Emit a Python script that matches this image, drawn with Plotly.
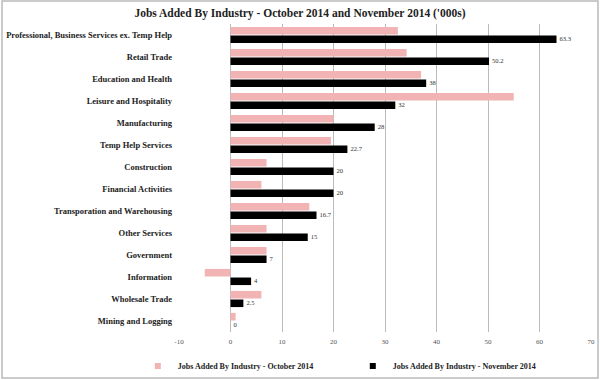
import plotly.graph_objects as go

categories = [
    "Professional, Business Services ex. Temp Help",
    "Retail Trade",
    "Education and Health",
    "Leisure and Hospitality",
    "Manufacturing",
    "Temp Help Services",
    "Construction",
    "Financial Activities",
    "Transporation and Warehousing",
    "Other Services",
    "Government",
    "Information",
    "Wholesale Trade",
    "Mining and Logging",
]
october = [32.5, 34.2, 37, 55, 20, 19.5, 7, 6, 15.3, 7, 7, -5, 6, 1]
november = [63.3, 50.2, 38, 32, 28, 22.7, 20, 20, 16.7, 15, 7, 4, 2.5, 0]
november_labels = ["63.3", "50.2", "38", "32", "28", "22.7", "20", "20", "16.7", "15", "7", "4", "2.5", "0"]
x_ticks = [-10, 0, 10, 20, 30, 40, 50, 60, 70]
series_names = ["Jobs Added By Industry - October 2014", "Jobs Added By Industry - November 2014"]
series_colors = ["#F2B3B5", "#000000"]

serif = "Liberation Serif"

fig = go.Figure()
fig.add_trace(go.Bar(
    y=categories, x=october, orientation="h",
    name=series_names[0], showlegend=False,
    marker=dict(color=series_colors[0], line=dict(width=0)),
))
fig.add_trace(go.Bar(
    y=categories, x=november, orientation="h",
    name=series_names[1], showlegend=False,
    marker=dict(color=series_colors[1], line=dict(width=0)),
    text=november_labels, textposition="outside",
    textfont=dict(family=serif, size=7, color="#333333"),
    cliponaxis=False,
))
# legend entries with small square symbols
for nm, col in zip(series_names, series_colors):
    fig.add_trace(go.Scatter(
        x=[None], y=[None], mode="markers", name="<b>" + nm + "</b>",
        marker=dict(symbol="square", size=6, color=col),
    ))

fig.update_layout(
    width=600, height=380,
    margin=dict(l=179, r=9, t=24, b=48, autoexpand=False),
    paper_bgcolor="white", plot_bgcolor="white",
    barmode="group", bargap=0.22, bargroupgap=0.12,
    title=dict(
        text="<b>Jobs Added By Industry - October 2014 and November 2014 ('000s)</b>",
        x=0.5, xanchor="center", xref="container", y=0.966, yanchor="middle",
        font=dict(family=serif, size=11.5, color="#222222"),
    ),
    font=dict(family=serif),
    showlegend=True,
    legend=dict(
        orientation="h", x=-0.1, xanchor="left", y=-0.11, yanchor="middle",
        font=dict(family=serif, size=8, color="#222222"),
        entrywidth=170, entrywidthmode="pixels",
        itemwidth=30, bgcolor="rgba(0,0,0,0)",
        traceorder="normal",
    ),
    xaxis=dict(
        range=[-10, 70], tickvals=x_ticks, ticktext=[str(v) for v in x_ticks],
        showgrid=True, gridcolor="#BBBBBB", gridwidth=1,
        zeroline=False, showline=False, automargin=False,
        tickfont=dict(family=serif, size=7, color="#555555"),
        ticks="", ticklabelstandoff=4,
    ),
    yaxis=dict(
        categoryorder="array", categoryarray=categories,
        autorange="reversed", automargin=False,
        showgrid=False, zeroline=False, showline=False,
        tickfont=dict(family=serif, size=8.5, color="#222222", weight="bold"),
        ticks="", ticklabelstandoff=6,
    ),
    shapes=[dict(
        type="rect", xref="paper", yref="paper",
        x0=-177 / 412, x1=1 + 7 / 412, y0=-46 / 308, y1=1 + 23 / 308,
        line=dict(color="#BBBBBB", width=1.5), fillcolor="rgba(0,0,0,0)", layer="below",
    )],
)

fig.write_html("out.html", config={"displayModeBar": False},
               post_script="document.body.style.margin='0';")
